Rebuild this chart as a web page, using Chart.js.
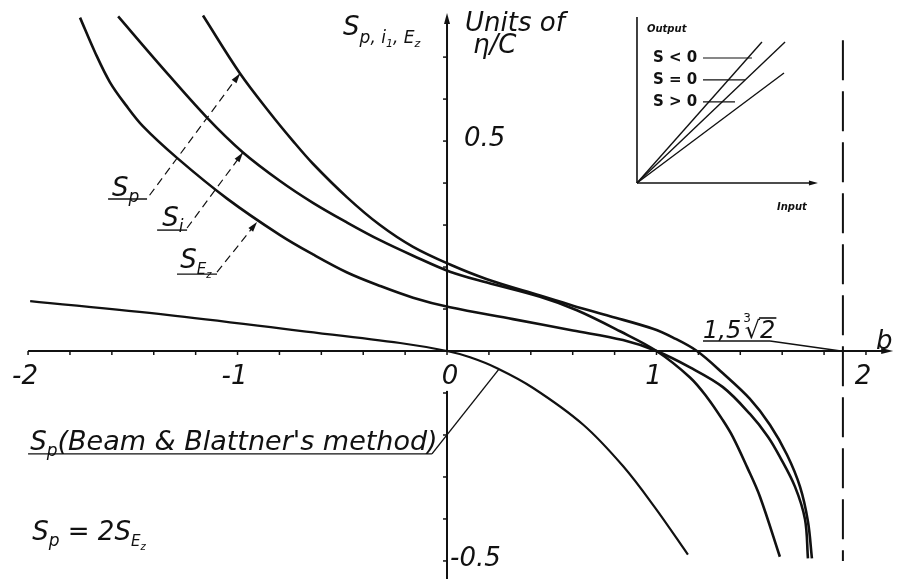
<!DOCTYPE html>
<html>
<head>
<meta charset="utf-8">
<script src="https://cdn.jsdelivr.net/npm/chart.js@4.4.1/dist/chart.umd.min.js"></script>
<style>
  html, body { margin: 0; padding: 0; background: #fff; }
  #wrap { position: relative; width: 902px; height: 579px; }
  #main { position: absolute; left: 0; top: 0; }
  #inset { position: absolute; left: 627px; top: 12px; }
</style>
</head>
<body>
<div id="wrap">
  <canvas id="main" width="902" height="579"></canvas>
  <canvas id="inset" width="205" height="205"></canvas>
</div>
<script>
// curves: b on the x axis, S in units of eta/C
const spB = [-1.165, -0.988, -0.845, -0.735, -0.640, -0.477, -0.320, -0.162, 0.014, 0.191, 0.444, 0.601, 0.778, 0.983, 1.079, 1.193, 1.317, 1.446, 1.542, 1.623, 1.685, 1.723, 1.742];
const spS = [0.799, 0.661, 0.567, 0.500, 0.446, 0.366, 0.300, 0.248, 0.206, 0.171, 0.132, 0.108, 0.083, 0.053, 0.032, 0, -0.053, -0.114, -0.176, -0.247, -0.323, -0.406, -0.494];

const siB = [-1.570, -1.370, -1.146, -0.974, -0.797, -0.640, -0.477, -0.320, -0.162, 0.014, 0.191, 0.444, 0.620, 0.826, 1.0, 1.160, 1.241, 1.317, 1.365, 1.432, 1.494, 1.589];
const siS = [0.797, 0.681, 0.556, 0.473, 0.405, 0.353, 0.306, 0.264, 0.227, 0.189, 0.163, 0.129, 0.097, 0.047, 0, -0.063, -0.110, -0.165, -0.205, -0.276, -0.347, -0.490];

const sezB = [-1.752, -1.680, -1.609, -1.532, -1.451, -1.289, -1.050, -0.797, -0.640, -0.477, -0.320, -0.162, 0.014, 0.315, 0.601, 0.840, 1.0, 1.160, 1.317, 1.446, 1.532, 1.589, 1.661, 1.709, 1.723];
const sezS = [0.794, 0.711, 0.640, 0.585, 0.535, 0.460, 0.363, 0.276, 0.230, 0.187, 0.155, 0.127, 0.104, 0.076, 0.049, 0.026, 0, -0.039, -0.086, -0.150, -0.204, -0.252, -0.323, -0.401, -0.494];

// Beam & Blattner's method
const bbB = [-1.990, -1.337, -0.702, -0.224, 0, 0.110, 0.239, 0.411, 0.649, 0.840, 0.993, 1.150];
const bbS = [0.119, 0.086, 0.048, 0.019, 0, -0.015, -0.041, -0.088, -0.175, -0.274, -0.373, -0.485];

const xTicks = [-2, -1, 0, 1, 2];
const xTickLabels = ['-2', '-1', '0', '1', '2'];
const yTicks = [0.5, -0.5];
const yTickLabels = ['0.5', '-0.5'];
const bLimit = 1.5 * Math.cbrt(2);

// inset: output vs input for the three cases
const insetNames = ['S < 0', 'S = 0', 'S > 0'];
const insetInput = [0.714, 0.846, 0.84];
const insetOutput = [1.007, 1.007, 0.786];

const ink = '#111';
const face = '"DejaVu Sans"';

function pairs(xs, ys) {
    return xs.map((v, i) => ({ x: v, y: ys[i] }));
}

function seg(ctx, x1, y1, x2, y2) {
    ctx.beginPath();
    ctx.moveTo(x1, y1);
    ctx.lineTo(x2, y2);
    ctx.stroke();
}

function arrow(ctx, x1, y1, x2, y2, len, half) {
    const a = Math.atan2(y2 - y1, x2 - x1);
    const c = Math.cos(a), s = Math.sin(a);
    ctx.beginPath();
    ctx.moveTo(x2, y2);
    ctx.lineTo(x2 - len * c + half * s, y2 - len * s - half * c);
    ctx.lineTo(x2 - len * c - half * s, y2 - len * s + half * c);
    ctx.closePath();
    ctx.fill();
}

// draws text pieces one after the other: [text, size, baseline shift]
function textRuns(ctx, x, y, parts, style) {
    let cx = x;
    parts.forEach(([t, size, dy]) => {
        ctx.font = (style || 'italic') + ' ' + size + 'px ' + face;
        ctx.fillText(t, cx, y + (dy || 0));
        cx += ctx.measureText(t).width;
    });
    return cx;
}

// axes, ticks and the dashed asymptote
const axesPlugin = {
    id: 'axes',
    beforeDatasetsDraw(chart) {
        const { ctx, scales: { x, y } } = chart;
        const X = v => x.getPixelForValue(v), Y = v => y.getPixelForValue(v);
        ctx.save();
        ctx.strokeStyle = ink;
        ctx.fillStyle = ink;
        ctx.lineWidth = 2;
        seg(ctx, X(-2), Y(0), X(2.1), Y(0));
        arrow(ctx, X(2.0), Y(0), X(2.13), Y(0), 12, 3);
        seg(ctx, X(0), Y(0), X(0), Y(0.78));
        arrow(ctx, X(0), Y(0.7), X(0), Y(0.805), 11, 3);
        seg(ctx, X(0), Y(-0.095), X(0), chart.chartArea.bottom);

        ctx.lineWidth = 1.5;
        for (let i = -10; i <= 10; i++) {
            seg(ctx, X(i / 5), Y(0), X(i / 5), Y(0) + 4);
        }
        for (let i = -5; i <= 7; i++) {
            if (i === 0) continue;
            seg(ctx, X(0) - 4, Y(i / 10), X(0), Y(i / 10));
        }

        ctx.lineWidth = 2;
        ctx.setLineDash([40, 11]);
        seg(ctx, X(bLimit), Y(0.74), X(bLimit), Y(-0.5));
        ctx.setLineDash([]);
        ctx.restore();
    }
};

// tick labels, curve names and the other lettering
const notesPlugin = {
    id: 'notes',
    afterDatasetsDraw(chart) {
        const { ctx, scales: { x, y } } = chart;
        const X = v => x.getPixelForValue(v), Y = v => y.getPixelForValue(v);
        ctx.save();
        ctx.fillStyle = ink;
        ctx.strokeStyle = ink;
        ctx.textBaseline = 'alphabetic';

        // tick labels
        ctx.font = 'italic 26px ' + face;
        ctx.textAlign = 'center';
        xTicks.forEach((v, i) => {
            const dx = v === 0 ? 3 : -3;
            ctx.fillText(xTickLabels[i], X(v) + dx, Y(0) + 33);
        });
        ctx.textAlign = 'left';
        ctx.textBaseline = 'middle';
        yTicks.forEach((v, i) => {
            const dx = v > 0 ? 17 : 3;
            ctx.fillText(yTickLabels[i], X(0) + dx, Y(v) - 2);
        });
        ctx.textBaseline = 'alphabetic';

        // axis titles
        textRuns(ctx, X(-0.496), Y(0.752), [['S', 26], ['p, i', 17, 8], ['1', 11, 12], [', E', 17, 8], ['z', 11, 12]]);
        textRuns(ctx, X(0.086), Y(0.762), [['Units of', 26]]);
        textRuns(ctx, X(0.124), Y(0.71), [['\u03b7/C', 26]]);
        textRuns(ctx, X(2.048), Y(0.004), [['b', 26]]);

        // asymptote label 1,5 x cube root of 2
        let cx = textRuns(ctx, X(1.222), Y(0.031), [['1,5', 24]]);
        cx = textRuns(ctx, cx + 2, Y(0.031), [['3', 12, -16]], 'normal');
        cx = textRuns(ctx, cx - 6, Y(0.031), [['\u221a', 24]], 'normal');
        const tw = textRuns(ctx, cx, Y(0.031), [['2', 24]]);
        ctx.lineWidth = 1.6;
        seg(ctx, cx - 1, Y(0.031) - 20, tw + 1, Y(0.031) - 20);
        ctx.lineWidth = 1.4;
        seg(ctx, X(1.222), Y(0.024), X(1.542), Y(0.024));
        seg(ctx, X(1.542), Y(0.024), X(bLimit) - 2, Y(0));

        // curve names with dashed leaders
        const names = [
            { parts: [['S', 26], ['p', 17, 6]], at: [-1.599, 0.369], line: [-1.618, -1.432, 0.362], from: [-1.42, 0.371], to: [-0.988, 0.661] },
            { parts: [['S', 26], ['i', 17, 6]], at: [-1.36, 0.298], line: [-1.384, -1.241, 0.288], from: [-1.241, 0.293], to: [-0.974, 0.473] },
            { parts: [['S', 26], ['E', 15, 6], ['z', 10, 10]], at: [-1.274, 0.198], line: [-1.289, -1.098, 0.183], from: [-1.098, 0.188], to: [-0.907, 0.307] }
        ];
        names.forEach(n => {
            textRuns(ctx, X(n.at[0]), Y(n.at[1]), n.parts);
            ctx.lineWidth = 1.4;
            seg(ctx, X(n.line[0]), Y(n.line[2]), X(n.line[1]), Y(n.line[2]));
            ctx.lineWidth = 1.2;
            ctx.setLineDash([8, 5]);
            seg(ctx, X(n.from[0]), Y(n.from[1]), X(n.to[0]), Y(n.to[1]));
            ctx.setLineDash([]);
            arrow(ctx, X(n.from[0]), Y(n.from[1]), X(n.to[0]), Y(n.to[1]), 10, 3);
        });

        // Beam & Blattner label
        textRuns(ctx, X(-1.99), Y(-0.236), [['S', 26], ['p', 17, 6], ["(Beam & Blattner's method)", 27]]);
        ctx.lineWidth = 1.4;
        seg(ctx, X(-2.0), Y(-0.245), X(-0.072), Y(-0.245));
        seg(ctx, X(-0.072), Y(-0.245), X(0.248), Y(-0.043));

        textRuns(ctx, X(-1.98), Y(-0.45), [['S', 26], ['p', 17, 6], [' = 2S', 26], ['E', 15, 6], ['z', 10, 10]]);
        ctx.restore();
    }
};

const curveStyle = {
    showLine: true,
    pointRadius: 0,
    borderColor: ink,
    borderWidth: 2.6,
    tension: 0.35,
    fill: false,
    clip: false
};

new Chart(document.getElementById('main'), {
    type: 'scatter',
    data: {
        datasets: [
            { label: 'S_p', data: pairs(spB, spS), ...curveStyle },
            { label: 'S_i', data: pairs(siB, siS), ...curveStyle },
            { label: 'S_Ez', data: pairs(sezB, sezS), ...curveStyle },
            { label: "S_p (Beam & Blattner's method)", data: pairs(bbB, bbS), ...curveStyle, borderWidth: 2.2 }
        ]
    },
    options: {
        responsive: false,
        animation: false,
        devicePixelRatio: 1,
        events: [],
        layout: { padding: 0 },
        plugins: { legend: { display: false }, tooltip: { enabled: false } },
        scales: {
            x: { type: 'linear', min: -2.134, max: 2.172, display: false },
            y: { type: 'linear', min: -0.543, max: 0.836, display: false }
        }
    },
    plugins: [axesPlugin, notesPlugin]
});

// inset sketch of output against input
const insetPlugin = {
    id: 'insetNotes',
    afterDatasetsDraw(chart) {
        const { ctx, scales: { x, y } } = chart;
        const X = v => x.getPixelForValue(v), Y = v => y.getPixelForValue(v);
        ctx.save();
        ctx.strokeStyle = ink;
        ctx.fillStyle = ink;
        ctx.lineWidth = 1.6;
        seg(ctx, X(0), Y(0), X(0), Y(1.186));
        seg(ctx, X(0), Y(0), X(1.0), Y(0));
        arrow(ctx, X(0.9), Y(0), X(1.034), Y(0), 9, 2.5);

        textRuns(ctx, X(0.057), Y(1.079), [['Output', 10]], 'bold italic');
        textRuns(ctx, X(0.8), Y(-0.193), [['Input', 10]], 'bold italic');

        const leadY = [0.893, 0.736, 0.579];
        const leadEnd = [0.657, 0.617, 0.56];
        ctx.lineWidth = 1.2;
        ctx.textBaseline = 'middle';
        insetNames.forEach((n, i) => {
            textRuns(ctx, X(0.091), Y(leadY[i]), [[n, 15]], 'bold');
            seg(ctx, X(0.377), Y(leadY[i]), X(leadEnd[i]), Y(leadY[i]));
        });
        ctx.restore();
    }
};

new Chart(document.getElementById('inset'), {
    type: 'scatter',
    data: {
        datasets: insetNames.map((n, i) => ({
            label: n,
            data: [{ x: 0, y: 0 }, { x: insetInput[i], y: insetOutput[i] }],
            showLine: true,
            pointRadius: 0,
            borderColor: ink,
            borderWidth: 1.4,
            clip: false
        }))
    },
    options: {
        responsive: false,
        animation: false,
        devicePixelRatio: 1,
        events: [],
        layout: { padding: 0 },
        plugins: { legend: { display: false }, tooltip: { enabled: false } },
        scales: {
            x: { type: 'linear', min: -0.0571, max: 1.1143, display: false },
            y: { type: 'linear', min: -0.2429, max: 1.2214, display: false }
        }
    },
    plugins: [insetPlugin]
});
</script>
</body>
</html>
